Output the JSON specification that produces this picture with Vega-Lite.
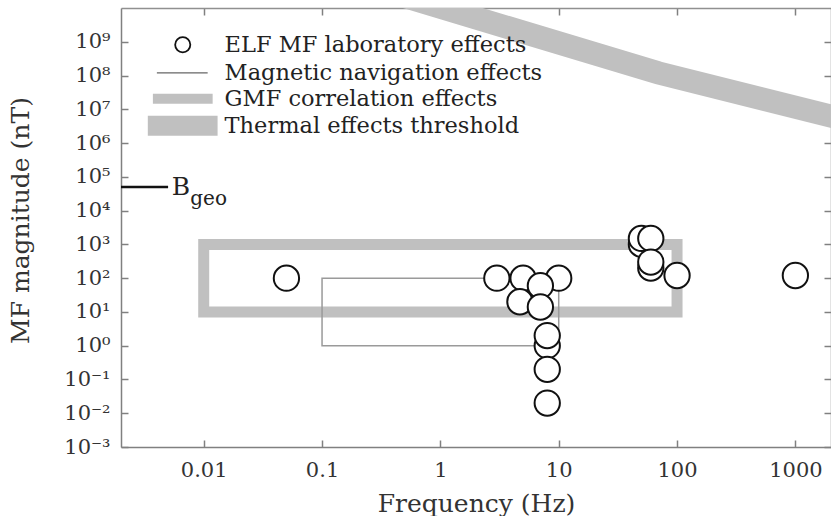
{
  "$schema": "https://vega.github.io/schema/vega-lite/v6.json",
  "autosize": "none",
  "width": 710,
  "height": 439,
  "padding": {"left": 121, "top": 8, "right": 0, "bottom": 69},
  "background": "white",
  "config": {
    "view": {"stroke": null},
    "font": "DejaVu Serif",
    "text": {"font": "DejaVu Serif"}
  },
  "datasets": {
    "thermal": [
      {"f": 0.304, "b": 3.69e10},
      {"f": 69.5, "b": 1.2e8},
      {"f": 7310, "b": 2.0e6}
    ],
    "gmf": [{"f": 0.01, "f2": 100, "b": 10, "b2": 1000}],
    "nav": [{"f": 0.1, "f2": 10, "b": 1, "b2": 100}],
    "bgeo": [{"f": 0.002, "f2": 0.005, "b": 50000}],
    "points": [
      {"f": 0.05, "b": 100},
      {"f": 3, "b": 100},
      {"f": 5, "b": 100},
      {"f": 10, "b": 100},
      {"f": 7, "b": 60},
      {"f": 4.7, "b": 20},
      {"f": 7, "b": 14},
      {"f": 8, "b": 1},
      {"f": 8, "b": 2},
      {"f": 8, "b": 0.2},
      {"f": 8, "b": 0.02},
      {"f": 50, "b": 1000},
      {"f": 50, "b": 1500},
      {"f": 60, "b": 1500},
      {"f": 60, "b": 200},
      {"f": 60, "b": 300},
      {"f": 100, "b": 120},
      {"f": 1000, "b": 120}
    ],
    "legendSymbol": [{"f": 0.00665, "b": 8.15e8}],
    "legendNav": [{"f": 0.00402, "f2": 0.0108, "b": 1.2e8}],
    "legendGmf": [{"f": 0.00372, "f2": 0.0119, "b": 2.05e7}],
    "legendThermal": [{"f": 0.00337, "f2": 0.0131, "b": 3.24e6}],
    "legendText": [
      {"f": 0.01502, "b": 8.15e8, "label": "ELF MF laboratory effects"},
      {"f": 0.01502, "b": 1.2e8, "label": "Magnetic navigation effects"},
      {"f": 0.01502, "b": 2.05e7, "label": "GMF correlation effects"},
      {"f": 0.01502, "b": 3.24e6, "label": "Thermal effects threshold"}
    ],
    "bgeoB": [{"f": 0.00537, "b": 50000, "label": "B"}],
    "bgeoSub": [{"f": 0.0077, "b": 22300, "label": "geo"}]
  },
  "encoding": {
    "x": {"field": "f", "type": "quantitative", "scale": {"type": "log", "domain": [0.002, 2000], "nice": false}, "axis": null},
    "y": {"field": "b", "type": "quantitative", "scale": {"type": "log", "domain": [0.001, 1e10], "nice": false}, "axis": null}
  },
  "resolve": {"axis": {"x": "independent", "y": "independent"}},
  "layer": [
    {
      "data": {"name": "thermal"},
      "mark": {"type": "line", "stroke": "#c0c0c0", "strokeWidth": 23, "strokeCap": "butt", "clip": true}
    },
    {
      "data": {"name": "gmf"},
      "mark": {"type": "rect", "fill": "transparent", "stroke": "#c0c0c0", "strokeWidth": 11},
      "encoding": {
        "x": {"field": "f", "type": "quantitative", "scale": {"type": "log", "domain": [0.002, 2000], "nice": false},
          "axis": {"orient": "top", "values": [0.01, 0.1, 1, 10, 100, 1000], "labels": false, "title": null, "grid": false,
            "tickSize": -7, "tickColor": "#808080", "tickWidth": 1.5, "domainColor": "#909090", "domainWidth": 1.5}},
        "x2": {"field": "f2"},
        "y": {"field": "b", "type": "quantitative", "scale": {"type": "log", "domain": [0.001, 1e10], "nice": false},
          "axis": {"orient": "right", "values": [0.001, 0.01, 0.1, 1, 10, 100, 1000, 10000, 100000, 1000000, 10000000, 100000000, 1000000000], "labels": false, "title": null, "grid": false,
            "tickSize": -7, "tickColor": "#808080", "tickWidth": 1.5, "domainColor": "#909090", "domainWidth": 1.5}},
        "y2": {"field": "b2"}
      }
    },
    {
      "data": {"name": "nav"},
      "mark": {"type": "rect", "fill": "transparent", "stroke": "#9a9a9a", "strokeWidth": 1.5},
      "encoding": {"x2": {"field": "f2"}, "y2": {"field": "b2"}}
    },
    {
      "data": {"name": "bgeo"},
      "mark": {"type": "rule", "stroke": "#111111", "strokeWidth": 2.5},
      "encoding": {"x2": {"field": "f2"}}
    },
    {
      "data": {"name": "points"},
      "mark": {"type": "point", "shape": "circle", "filled": false, "fill": "white", "fillOpacity": 1, "stroke": "#111111", "strokeWidth": 2, "size": 640, "opacity": 1},
      "encoding": {
        "x": {"field": "f", "type": "quantitative", "scale": {"type": "log", "domain": [0.002, 2000], "nice": false},
          "axis": {"orient": "bottom", "values": [0.01, 0.1, 1, 10, 100, 1000], "format": "~g", "grid": false,
            "tickSize": -7, "tickColor": "#808080", "tickWidth": 1.5, "domainColor": "#808080", "domainWidth": 1.5,
            "labelFont": "DejaVu Serif", "labelFontSize": 21, "labelColor": "#333333", "labelPadding": 19, "labelFlush": false,
            "title": "Frequency (Hz)", "titleFont": "DejaVu Serif", "titleFontSize": 25, "titleFontWeight": "normal", "titleColor": "#333333",
            "titleY": 56, "titleBaseline": "middle"}},
        "y": {"field": "b", "type": "quantitative", "scale": {"type": "log", "domain": [0.001, 1e10], "nice": false},
          "axis": {"orient": "left", "values": [0.001, 0.01, 0.1, 1, 10, 100, 1000, 10000, 100000, 1000000, 10000000, 100000000, 1000000000],
            "labelExpr": "['10⁻³','10⁻²','10⁻¹','10⁰','10¹','10²','10³','10⁴','10⁵','10⁶','10⁷','10⁸','10⁹','10¹⁰'][round(log(datum.value)/LN10)+3]",
            "grid": false, "tickSize": -7, "tickColor": "#808080", "tickWidth": 1.5, "domainColor": "#808080", "domainWidth": 1.5,
            "labelFont": "DejaVu Serif", "labelFontSize": 21, "labelColor": "#333333", "labelPadding": 18, "labelFlush": false,
            "title": "MF magnitude (nT)", "titleFont": "DejaVu Serif", "titleFontSize": 25, "titleFontWeight": "normal", "titleColor": "#333333",
            "titleX": -101, "titleY": 212, "titleAngle": 270, "titleAlign": "center", "titleBaseline": "middle"}}
      }
    },
    {
      "data": {"name": "legendSymbol"},
      "mark": {"type": "point", "shape": "circle", "filled": false, "stroke": "#111111", "strokeWidth": 1.8, "size": 230, "opacity": 1}
    },
    {
      "data": {"name": "legendNav"},
      "mark": {"type": "rule", "stroke": "#666666", "strokeWidth": 1.2},
      "encoding": {"x2": {"field": "f2"}}
    },
    {
      "data": {"name": "legendGmf"},
      "mark": {"type": "rule", "stroke": "#c0c0c0", "strokeWidth": 10, "strokeCap": "butt"},
      "encoding": {"x2": {"field": "f2"}}
    },
    {
      "data": {"name": "legendThermal"},
      "mark": {"type": "rule", "stroke": "#c0c0c0", "strokeWidth": 20, "strokeCap": "butt"},
      "encoding": {"x2": {"field": "f2"}}
    },
    {
      "data": {"name": "legendText"},
      "mark": {"type": "text", "align": "left", "baseline": "middle", "font": "DejaVu Serif", "fontSize": 22.5, "color": "#222222"},
      "encoding": {"text": {"field": "label"}}
    },
    {
      "data": {"name": "bgeoB"},
      "mark": {"type": "text", "align": "left", "baseline": "middle", "font": "DejaVu Serif", "fontSize": 25, "color": "#222222"},
      "encoding": {"text": {"field": "label"}}
    },
    {
      "data": {"name": "bgeoSub"},
      "mark": {"type": "text", "align": "left", "baseline": "middle", "font": "DejaVu Serif", "fontSize": 20, "color": "#222222"},
      "encoding": {"text": {"field": "label"}}
    }
  ]
}
